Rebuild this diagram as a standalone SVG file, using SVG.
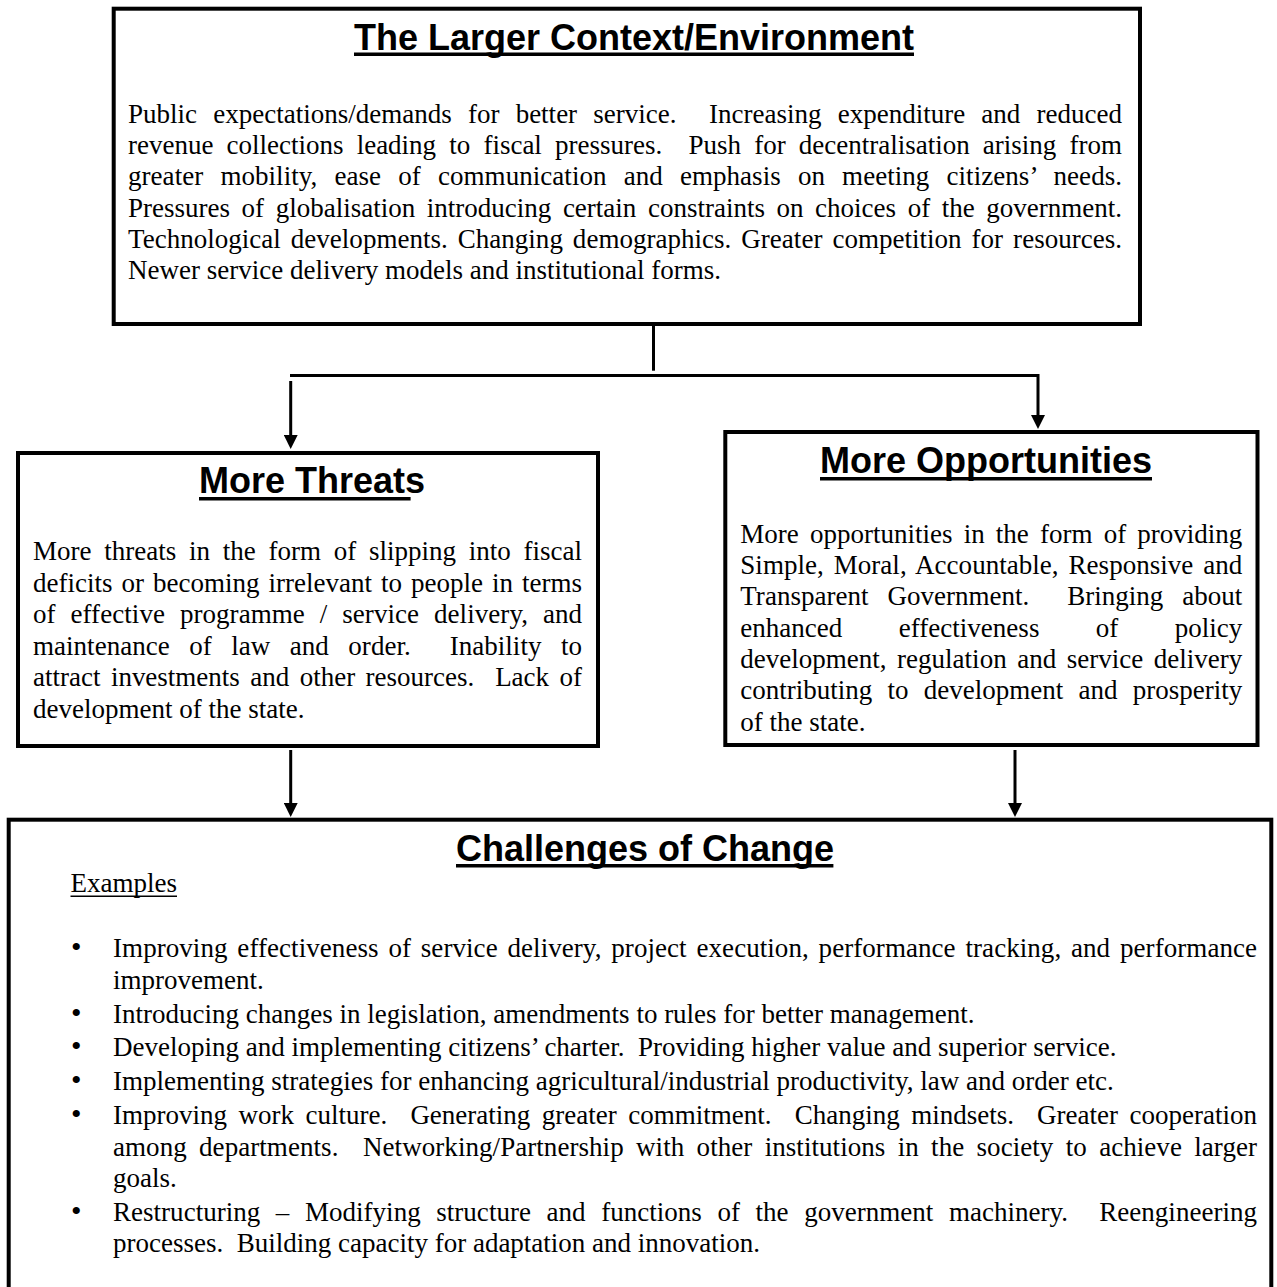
<svg xmlns="http://www.w3.org/2000/svg" width="1277" height="1287" viewBox="0 0 1277 1287">
<style>
.box{fill:#fff;stroke:#000;stroke-width:4}
.title{font-family:"Liberation Sans",Arial,sans-serif;font-weight:bold;font-size:36px;fill:#000}
.body{font-family:"Liberation Serif","Times New Roman",serif;font-size:27px;fill:#000}
.bul{font-family:"Liberation Serif","Times New Roman",serif;font-size:30px;fill:#000}
.ul{fill:#000}
.conn{stroke:#000;stroke-width:3;fill:none}
</style>
<defs>
<marker id="ah" markerUnits="userSpaceOnUse" markerWidth="14" markerHeight="14" refX="6" refY="7" orient="auto"><path d="M0,0 L14,7 L0,14 Z" fill="#000"/></marker>
</defs>
<rect width="1277" height="1287" fill="#fff"/>

<g id="context">
<rect class="box" x="113.7" y="8.7" width="1026.3" height="315.3"/>
<text class="title" x="354" y="49.5">The Larger Context/Environment</text>
<rect class="ul" x="354" y="52.5" width="560" height="3.5"/>
<text class="body" x="128" y="123" textLength="994" lengthAdjust="spacing" word-spacing="9.5">Public expectations/demands for better service.&#160; Increasing expenditure and reduced</text>
<text class="body" x="128" y="154.2" textLength="994" lengthAdjust="spacing" word-spacing="6.4">revenue collections leading to fiscal pressures.&#160; Push for decentralisation arising from</text>
<text class="body" x="128" y="185.4" textLength="994" lengthAdjust="spacing" word-spacing="10.3">greater mobility, ease of communication and emphasis on meeting citizens’ needs.</text>
<text class="body" x="128" y="216.6" textLength="994" lengthAdjust="spacing" word-spacing="4.8">Pressures of globalisation introducing certain constraints on choices of the government.</text>
<text class="body" x="128" y="247.8" textLength="994" lengthAdjust="spacing" word-spacing="3.2">Technological developments. Changing demographics. Greater competition for resources.</text>
<text class="body" x="128" y="279">Newer service delivery models and institutional forms.</text>
</g>

<g id="threats">
<rect class="box" x="18" y="453" width="580" height="293"/>
<text class="title" x="199" y="493">More Threats</text>
<rect class="ul" x="199" y="497" width="211.6" height="3.5"/>
<text class="body" x="33" y="560" textLength="549" lengthAdjust="spacing" word-spacing="6">More threats in the form of slipping into fiscal</text>
<text class="body" x="33" y="591.6" textLength="549" lengthAdjust="spacing" word-spacing="2.3">deficits or becoming irrelevant to people in terms</text>
<text class="body" x="33" y="623.2" textLength="549" lengthAdjust="spacing" word-spacing="8.1">of effective programme / service delivery, and</text>
<text class="body" x="33" y="654.8" textLength="549" lengthAdjust="spacing" word-spacing="12.7">maintenance of law and order.&#160; Inability to</text>
<text class="body" x="33" y="686.4" textLength="549" lengthAdjust="spacing" word-spacing="3.7">attract investments and other resources.&#160; Lack of</text>
<text class="body" x="33" y="718">development of the state.</text>
</g>

<g id="opportunities">
<rect class="box" x="725.3" y="432" width="532.2" height="313"/>
<text class="title" x="820" y="473.3">More Opportunities</text>
<rect class="ul" x="820" y="477" width="332" height="3.5"/>
<text class="body" x="740.3" y="542.7" textLength="502" lengthAdjust="spacing" word-spacing="4.4">More opportunities in the form of providing</text>
<text class="body" x="740.3" y="574" textLength="502" lengthAdjust="spacing" word-spacing="3.1">Simple, Moral, Accountable, Responsive and</text>
<text class="body" x="740.3" y="605.3" textLength="502" lengthAdjust="spacing" word-spacing="12.1">Transparent Government.&#160; Bringing about</text>
<text class="body" x="740.3" y="636.6" textLength="502" lengthAdjust="spacing" word-spacing="49.6">enhanced effectiveness of policy</text>
<text class="body" x="740.3" y="667.9" textLength="502" lengthAdjust="spacing" word-spacing="3.8">development, regulation and service delivery</text>
<text class="body" x="740.3" y="699.2" textLength="502" lengthAdjust="spacing" word-spacing="8.5">contributing to development and prosperity</text>
<text class="body" x="740.3" y="730.5">of the state.</text>
</g>

<g id="challenges">
<rect class="box" x="8.7" y="819.7" width="1262.6" height="490"/>
<text class="title" x="456" y="860.7">Challenges of Change</text>
<rect class="ul" x="456" y="864" width="377.4" height="3.5"/>
<text class="body" x="70.5" y="892">Examples</text>
<rect class="ul" x="70.5" y="895.5" width="106.5" height="1.5"/>
<g class="bul">
<text x="71" y="957.3">•</text>
<text x="71" y="1022.5">•</text>
<text x="71" y="1056.4">•</text>
<text x="71" y="1090.3">•</text>
<text x="71" y="1124.2">•</text>
<text x="71" y="1220.7">•</text>
</g>
<text class="body" x="113" y="957.3" textLength="1144" lengthAdjust="spacing" word-spacing="3">Improving effectiveness of service delivery, project execution, performance tracking, and performance</text>
<text class="body" x="113" y="988.6">improvement.</text>
<text class="body" x="113" y="1022.5">Introducing changes in legislation, amendments to rules for better management.</text>
<text class="body" x="113" y="1056.4">Developing and implementing citizens’ charter.&#160; Providing higher value and superior service.</text>
<text class="body" x="113" y="1090.3">Implementing strategies for enhancing agricultural/industrial productivity, law and order etc.</text>
<text class="body" x="113" y="1124.2" textLength="1144" lengthAdjust="spacing" word-spacing="4.8">Improving work culture.&#160; Generating greater commitment.&#160; Changing mindsets.&#160; Greater cooperation</text>
<text class="body" x="113" y="1155.5" textLength="1144" lengthAdjust="spacing" word-spacing="5.5">among departments.&#160; Networking/Partnership with other institutions in the society to achieve larger</text>
<text class="body" x="113" y="1186.8">goals.</text>
<text class="body" x="113" y="1220.7" textLength="1144" lengthAdjust="spacing" word-spacing="8.8">Restructuring – Modifying structure and functions of the government machinery.&#160; Reengineering</text>
<text class="body" x="113" y="1252">processes.&#160; Building capacity for adaptation and innovation.</text>
</g>

<g id="connectors">
<path class="conn" d="M653.5,326 V370.7"/>
<path class="conn" d="M290,375.5 H1038 V421" marker-end="url(#ah)"/>
<path class="conn" d="M290.7,381 V441" marker-end="url(#ah)"/>
<path class="conn" d="M290.7,750 V809" marker-end="url(#ah)"/>
<path class="conn" d="M1015,750 V809" marker-end="url(#ah)"/>
</g>
</svg>
